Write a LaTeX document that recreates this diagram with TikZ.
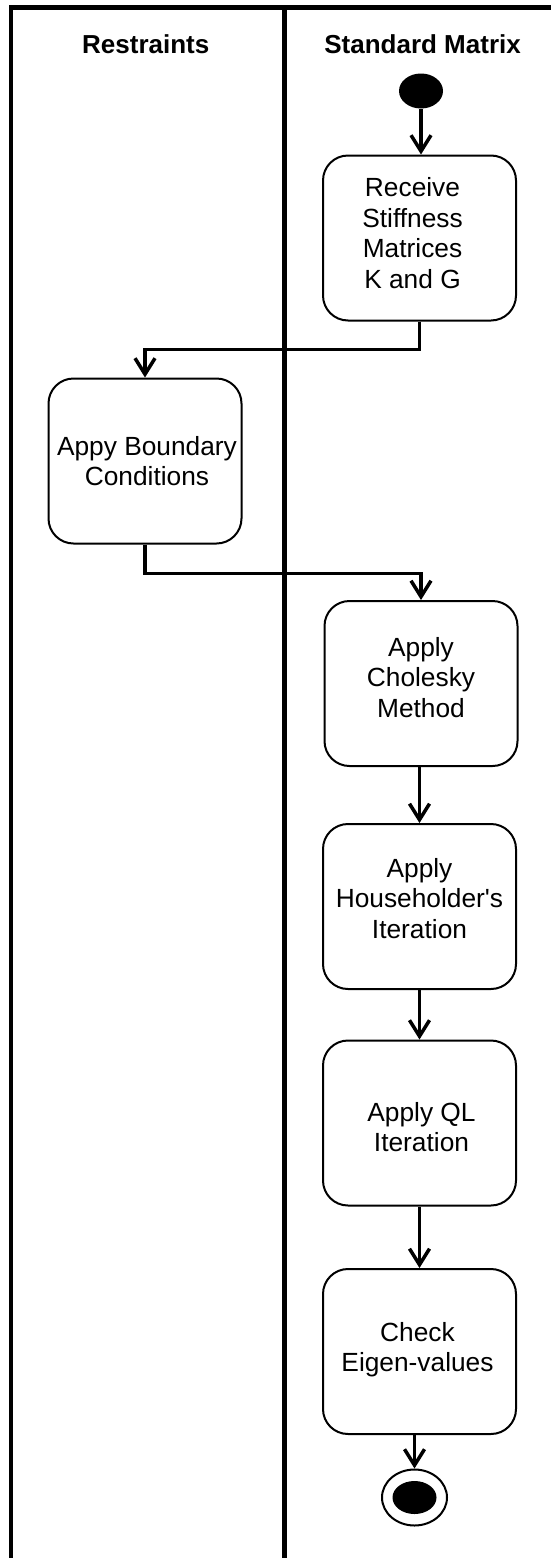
\documentclass[tikz,border=0pt]{standalone}
\usepackage{fontspec}
\setmainfont{Liberation Sans}[Ligatures=TeXOff]
\usetikzlibrary{arrows.meta,shapes.geometric}
\begin{document}
\begin{tikzpicture}[x=1pt,y=-1pt,
  lane/.style={line width=4.5pt},
  act/.style={draw,line width=2pt,rounded corners=25pt,minimum width=193pt,
    minimum height=165pt,inner sep=0pt},
  acttext/.style={align=center,inner sep=0pt,
    font=\fontsize{26.3}{30.5}\selectfont},
  flow/.style={line width=3.5pt,
    -{Straight Barb[length=16pt,width=20pt,line width=3.5pt]}},
  lanehead/.style={font=\fontsize{26}{30}\selectfont\bfseries,anchor=base,inner sep=0pt}
]
\useasboundingbox (0,0) rectangle (551,1558);

% swimlane frame
\draw[lane] (11,1558) -- (11,7.5) -- (551,7.5);
\draw[lane] (284.5,7.5) -- (284.5,1558);
\node[lanehead] (h1) at (145.8,53.4) {Restraints};
\node[lanehead] (h2) at (422.6,53.4) {Standard Matrix};

% activities
\node[ellipse,fill=black,minimum width=44pt,minimum height=35pt,inner sep=0pt] (start) at (421,91) {};
\node[act,label={[acttext,shift={(-7,-5)}]center:{Receive\\Stiffness\\Matrices\\K and G}}] (b1) at (419.5,238) {};
\node[act,label={[acttext,shift={(2,0)}]center:{Appy Boundary\\Conditions}}] (b2) at (145,461) {};
\node[act,label={[acttext,shift={(0,-6)}]center:{Apply\\Cholesky\\Method}}] (b3) at (421,683.5) {};
\node[act,label={[acttext,shift={(0,-8)}]center:{Apply\\Householder's\\Iteration}}] (b4) at (419.5,906.5) {};
\node[act,label={[acttext,shift={(2,4)}]center:{Apply QL\\Iteration}}] (b5) at (419.5,1123) {};
\node[act,label={[acttext,shift={(-2,-2)}]center:{Check\\Eigen-values}}] (b6) at (419.5,1351.5) {};
\node[ellipse,draw,line width=2pt,minimum width=65pt,minimum height=56pt,inner sep=0pt] (end) at (414.5,1497.5) {};
\node[ellipse,fill=black,minimum width=44pt,minimum height=33pt,inner sep=0pt] (endin) at (end.center) {};

% control flow
\draw[flow] (start.south) -- (start.south |- b1.north);
\draw[flow] (b1.south) -- ++(0,28) -| (b2.north);
\draw[flow] (b2.south) -- ++(0,29) -| (b3.north);
\draw[flow] (b3.south -| b4.north) -- (b4.north);
\draw[flow] (b4.south) -- (b5.north);
\draw[flow] (b5.south) -- (b6.north);
\draw[flow] (b6.south -| end.north) -- (end.north);
\end{tikzpicture}
\end{document}
